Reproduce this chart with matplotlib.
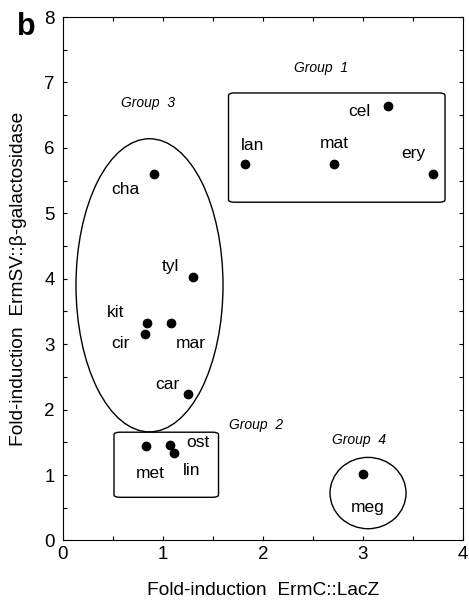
import numpy as np
import matplotlib
matplotlib.use("Agg")
import matplotlib.pyplot as plt
from matplotlib.patches import Ellipse, FancyBboxPatch

plt.rcParams['font.family'] = ['Liberation Sans', 'DejaVu Sans']

# strain data
names = ["cha", "tyl", "lan", "mat", "cel", "ery",
         "kit", "cir", "mar", "car", "met", "ost", "lin", "meg"]
lacz = [0.91, 1.30, 1.82, 2.71, 3.25, 3.70,
        0.84, 0.82, 1.08, 1.25, 0.83, 1.07, 1.11, 3.00]
bgal = [5.60, 4.02, 5.75, 5.75, 6.64, 5.60,
        3.32, 3.16, 3.32, 2.24, 1.44, 1.46, 1.34, 1.02]
label_x = [0.62, 1.07, 1.90, 2.71, 2.96, 3.50,
           0.53, 0.57, 1.28, 1.04, 0.87, 1.35, 1.29, 3.05]
label_y = [5.37, 4.18, 6.04, 6.07, 6.55, 5.91,
           3.48, 3.01, 3.01, 2.39, 1.02, 1.50, 1.07, 0.50]

group_names = ["Group  1", "Group  2", "Group  3", "Group  4"]
group_x = [2.58, 1.93, 0.85, 2.96]
group_y = [7.22, 1.77, 6.69, 1.53]

fig = plt.figure(figsize=(4.69, 6.09), dpi=100)
ax = fig.add_axes([0.1343, 0.1125, 0.8530, 0.8595])

ax.scatter(lacz, bgal, s=36, color="black", zorder=3)

for n, tx, ty in zip(names, label_x, label_y):
    ax.text(tx, ty, n, fontsize=12.5, ha="center", va="center")

for g, gx, gy in zip(group_names, group_x, group_y):
    ax.text(gx, gy, g, fontsize=10, style="italic", ha="center", va="center")

# group outlines
ax.add_patch(Ellipse((0.865, 3.90), 1.47, 4.48, fill=False, lw=1.0, color="black"))
ax.add_patch(Ellipse((3.05, 0.725), 0.76, 1.09, fill=False, lw=1.0, color="black"))
ax.add_patch(FancyBboxPatch((1.655, 5.17), 3.82 - 1.655, 6.84 - 5.17,
                            boxstyle="round,pad=0,rounding_size=0.06",
                            mutation_aspect=0.65,
                            fill=False, lw=1.0, ec="black"))
ax.add_patch(FancyBboxPatch((0.51, 0.66), 1.555 - 0.51, 1.655 - 0.66,
                            boxstyle="round,pad=0,rounding_size=0.06",
                            mutation_aspect=0.65,
                            fill=False, lw=1.0, ec="black"))

ax.set_xlim(0, 4)
ax.set_ylim(0, 8)
ax.set_xticks([0, 1, 2, 3, 4])
ax.set_yticks(range(0, 9))
ax.set_xticks(np.arange(0, 4.01, 0.5), minor=True)
ax.set_yticks(np.arange(0, 8.01, 0.5), minor=True)
ax.tick_params(which="both", direction="in", top=True, right=True,
               length=3, width=0.8, labelsize=13.5)
ax.tick_params(axis="x", pad=4)
ax.tick_params(axis="y", pad=6)

ax.set_xlabel("Fold-induction  ErmC::LacZ", fontsize=13.8, labelpad=14)
ax.set_ylabel("Fold-induction  ErmSV::\u03b2-galactosidase", fontsize=13.8, labelpad=12)

fig.text(0.057, 0.955, "b", fontsize=22, fontweight="bold", ha="center", va="center")

fig.savefig("out.png", dpi=100)
